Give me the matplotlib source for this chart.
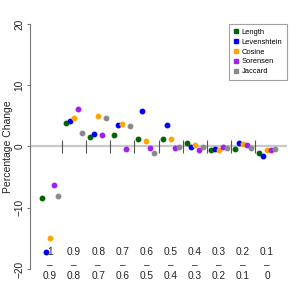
import matplotlib
matplotlib.use("Agg")
import matplotlib.pyplot as plt
import numpy as np

plt.rcParams['font.family'] = ['Liberation Sans', 'DejaVu Sans']

upper = ["1", "0.9", "0.8", "0.7", "0.6", "0.5", "0.4", "0.3", "0.2", "0.1"]
lower = ["0.9", "0.8", "0.7", "0.6", "0.5", "0.4", "0.3", "0.2", "0.1", "0"]

series_names = ["Length", "Levenshtein", "Cosine", "Sorensen", "Jaccard"]
series_colors = ["#006400", "#0000FF", "#FFA500", "#A020F0", "#8A8A8A"]

length = [-8.4, 3.87, 1.53, 1.85, 1.3, 1.25, 0.6, -0.5, -0.45, -1.03]
levenshtein = [-17.3, 4.14, 2.07, 3.43, 5.87, 3.43, -0.05, -0.45, 0.6, -1.58]
cosine = [-14.9, 4.73, 5.0, 3.6, 0.93, 1.3, 0.28, -0.5, 0.33, -0.65]
sorensen = [-6.25, 6.2, 1.9, -0.43, -0.2, -0.2, -0.5, -0.05, 0.28, -0.55]
jaccard = [-8.05, 2.23, 4.68, 3.38, -1.0, -0.15, -0.05, -0.28, -0.28, -0.45]

series = [length, levenshtein, cosine, sorensen, jaccard]

fig = plt.figure(figsize=(3, 3), dpi=100)
ax = fig.add_axes([30/300, 10/300, 257/300, 266/300])

n = len(upper)
x = np.arange(1, n + 1)

ax.axhline(0, color="#C8C8C8", lw=1.6, zorder=1)
bounds = np.arange(1.5, n, 1.0)
ax.vlines(bounds, -1, 1, color="#555555", lw=0.8, zorder=2)

offsets = np.linspace(-0.33, 0.33, len(series))
for vals, name, col, off in zip(series, series_names, series_colors, offsets):
    ax.plot(x + off, vals, linestyle="none", marker="o", ms=3.2,
            color=col, mec=col, label=name, zorder=3)

for xi, u, l in zip(x, upper, lower):
    ax.text(xi, -17.2, u, ha="center", va="center", fontsize=7.3, color="#222222", clip_on=False)
    ax.text(xi, -19.3, "–", ha="center", va="center", fontsize=7.3, color="#222222", clip_on=False)
    ax.text(xi, -21.2, l, ha="center", va="center", fontsize=7.3, color="#222222", clip_on=False)

ax.set_xlim(0.17, 10.83)
ax.set_ylim(-23.43, 20)

for s in ["top", "right", "bottom"]:
    ax.spines[s].set_visible(False)
ax.spines["left"].set_bounds(-20, 20)
ax.spines["left"].set_color("#777777")
ax.spines["left"].set_linewidth(0.8)
ax.set_xticks([])
ax.set_yticks([-20, -10, 0, 10, 20])
ax.tick_params(axis="y", length=2.5, width=0.8, color="#777777", labelsize=7.3,
               labelcolor="#222222", pad=1.5)
for lab in ax.get_yticklabels():
    lab.set_rotation(90)
    lab.set_va("center")
ax.set_ylabel("Percentage Change", fontsize=7.5, color="#222222")
ax.yaxis.set_label_coords(-0.066, 23.43 / 43.43)

leg = ax.legend(loc="upper right", bbox_to_anchor=(1.0, 1.0), borderaxespad=0,
                fontsize=5.4, frameon=True, fancybox=False, edgecolor="#888888",
                handlelength=0.5, handletextpad=0.6, labelspacing=0.35,
                borderpad=0.6, markerscale=1.0)
leg.get_frame().set_linewidth(0.8)
for h in leg.legend_handles:
    h.set_marker("s")
    h.set_markersize(2.4)

fig.savefig("out.png", dpi=100)
